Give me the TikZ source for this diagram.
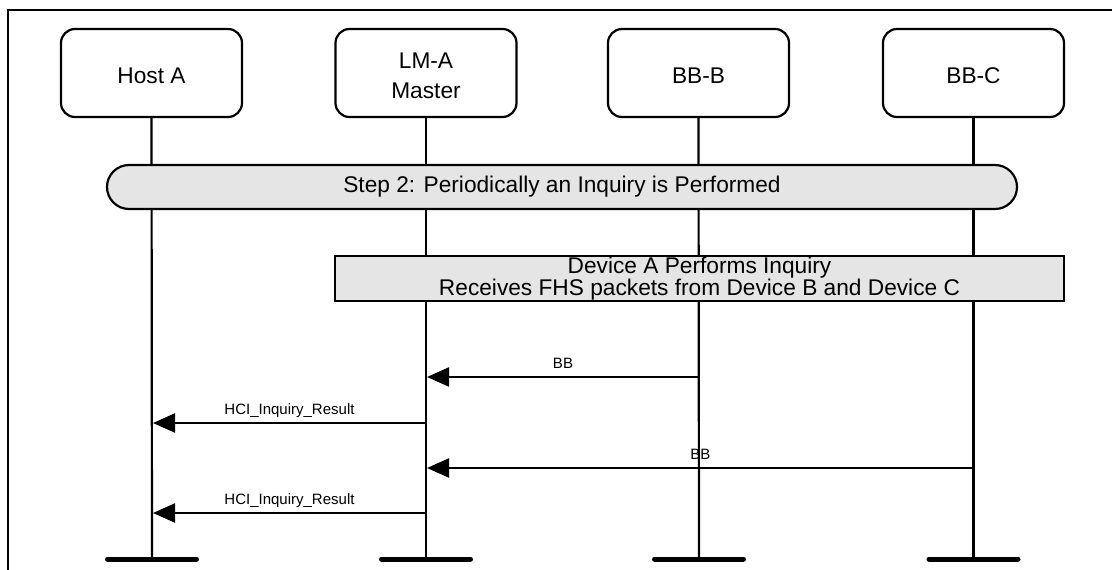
\documentclass[tikz,border=0pt]{standalone}
\usepackage{fontspec}
\setmainfont{Liberation Sans}
\usetikzlibrary{arrows.meta}
\definecolor{boxgray}{RGB}{229,229,229}
\begin{document}
\begin{tikzpicture}[x=1pt,y=-1pt,
  hdr/.style={draw, line width=2.2pt, rounded corners=14pt, minimum width=181pt,
    minimum height=88pt, inner sep=0pt, align=center, text height=20.3pt,
    font=\fontsize{22.7}{30}\selectfont},
  hdrtwo/.style={hdr, text height=50.3pt},
  bigtext/.style={font=\fontsize{22.7}{22}\selectfont},
  lifeline/.style={line width=2.2pt},
  endbar/.style={line width=5pt, line cap=round},
  msg/.style={line width=2.2pt, -{Triangle[length=22pt,width=19pt]}},
  msglabel/.style={font=\fontsize{15}{18}\selectfont, anchor=base, yshift=9pt},
  greybox/.style={draw, line width=2.2pt, fill=boxgray, inner sep=0pt, align=center}
]
\useasboundingbox (0,0) rectangle (1112,570);
\fill[white] (0,0) rectangle (1112,570);

% frame
\draw[line width=2.2pt] (8,571) -- (8,10) -- (1113,10);

% headers
\node[hdr] (hA) at (151.5,73) {Host A};
\node[hdrtwo] (hL) at (426,73) {LM-A\\Master};
\node[hdr] (hB) at (698.5,73) {BB-B};
\node[hdr] (hC) at (973.5,73) {BB-C};

% lifeline ends
\coordinate (eA) at (152,559);
\coordinate (eL) at (426,559);
\coordinate (eB) at (699,559);
\coordinate (eC) at (973.5,559);

\draw[lifeline] (hA.south) -- (eA);
\draw[lifeline] (hL.south) -- (eL);
\draw[lifeline] (hB.south) -- (eB);
\draw[lifeline] (hC.south) -- (eC);

\draw[endbar] ([xshift=-44.5pt]eA) -- ([xshift=44.5pt]eA);
\draw[endbar] ([xshift=-44.5pt]eL) -- ([xshift=44.5pt]eL);
\draw[endbar] ([xshift=-44.5pt]eB) -- ([xshift=44.5pt]eB);
\draw[endbar] ([xshift=-44.5pt]eC) -- ([xshift=44.5pt]eC);

% step bar
\node[greybox, rounded corners=22pt, minimum width=910pt, minimum height=44pt, bigtext]
  (step) at (562,187) {Step 2: Periodically an Inquiry is Performed};

% device box
\node[greybox, minimum width=729pt, minimum height=45pt, bigtext]
  (dev) at (699.5,278.5) {Device A Performs Inquiry\\Receives FHS packets from Device B and Device C};

% message end points
\coordinate (m1s) at (699,377);  \coordinate (m1e) at (427,377);
\coordinate (m2s) at (426,423);  \coordinate (m2e) at (153,423);
\coordinate (m3s) at (973.5,468); \coordinate (m3e) at (427,468);
\coordinate (m4s) at (426,513);  \coordinate (m4e) at (153,513);

\draw[msg] (m1s) -- node[msglabel] {BB} (m1e);
\draw[msg] (m2s) -- node[msglabel] {HCI\_Inquiry\_Result} (m2e);
\draw[msg] (m3s) -- node[msglabel] {BB} (m3e);
\draw[msg] (m4s) -- node[msglabel] {HCI\_Inquiry\_Result} (m4e);
\end{tikzpicture}
\end{document}
